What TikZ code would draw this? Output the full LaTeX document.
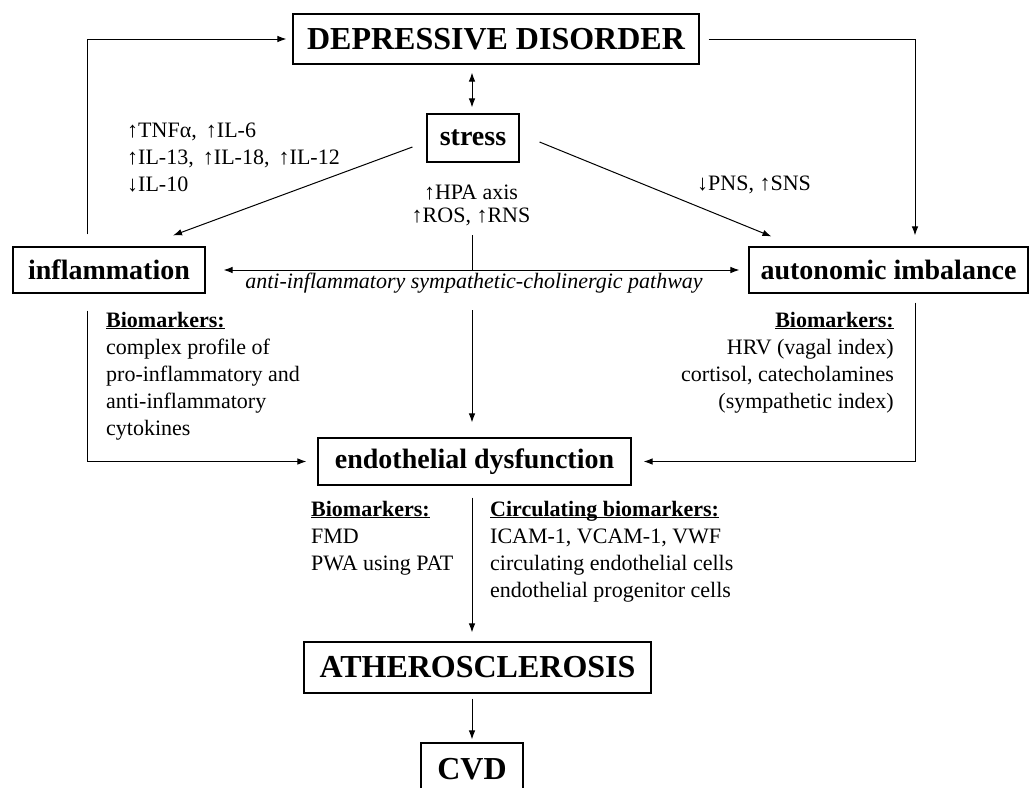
\documentclass[tikz,border=0pt]{standalone}
\usepackage{fontspec}
\setmainfont{Liberation Serif}
\usetikzlibrary{arrows.meta}
\newcommand{\ulbio}[1]{\textbf{\underline{\smash{#1}}}}
\begin{document}
\begin{tikzpicture}[x=1pt,y=-1pt,
  box/.style={draw, line width=1.1pt, inner sep=0pt, font=\bfseries\fontsize{28}{33}\selectfont},
  big/.style={box, font=\bfseries\fontsize{32}{38}\selectfont},
  conn/.style={line width=1pt},
  arr/.style={conn, -{Latex[length=9pt,width=6.5pt]}},
  dbl/.style={conn, {Latex[length=9pt,width=6.5pt]}-{Latex[length=9pt,width=6.5pt]}},
  txt/.style={inner sep=0pt, font=\fontsize{22}{27}\selectfont},
]
\useasboundingbox (0,0) rectangle (1032,787);
\clip (0,0) rectangle (1032,787);

% boxes
\node[big, minimum width=406pt, minimum height=50pt] (dd) at (496,39) {DEPRESSIVE DISORDER};
\node[box, minimum width=92pt, minimum height=48pt] (stress) at (473,138) {stress};
\node[box, minimum width=192pt, minimum height=46pt] (infl) at (109,270) {inflammation};
\node[box, minimum width=279pt, minimum height=46pt] (auto) at (888.5,270) {autonomic imbalance};
\node[box, minimum width=313pt, minimum height=47pt] (endo) at (474.5,461.5) {endothelial dysfunction};
\node[big, minimum width=347pt, minimum height=51pt] (ath) at (477.5,667.5) {ATHEROSCLEROSIS};
\node[big, minimum width=102pt, minimum height=52pt] (cvd) at (472,769) {CVD};

% texts
\node[txt, anchor=north west, align=left] (cyt) at (127,{137-18.9})
  {\strut↑TNFα, \,↑IL-6\\↑IL-13, \,↑IL-18, \,↑IL-12\\↓IL-10};
\node[inner sep=0pt, font=\fontsize{22}{23}\selectfont, anchor=north, align=center] (hpa) at (471,{199-16.1})
  {\strut↑HPA axis\\↑ROS, ↑RNS};
\node[txt, anchor=base west] (pns) at (697,190) {↓PNS, ↑SNS};
\node[inner sep=0pt, font=\itshape\fontsize{22}{27}\selectfont, anchor=base] (path) at (474,288)
  {anti-inflammatory sympathetic-cholinergic pathway};
\node[txt, anchor=north west, align=left] (bio1) at (106,{327-18.9})
  {\strut\ulbio{Biomarkers:}\\complex profile of\\pro-inflammatory and\\anti-inflammatory\\cytokines};
\node[txt, anchor=north east, align=right] (bio2) at (894,{327-18.9})
  {\strut\ulbio{Biomarkers:}\\HRV (vagal index)\\cortisol, catecholamines\\(sympathetic index)};
\node[txt, anchor=north west, align=left] (bio3) at (311,{516-18.9})
  {\strut\ulbio{Biomarkers:}\\FMD\\PWA using PAT};
\node[txt, anchor=north west, align=left] (bio4) at (490,{516-18.9})
  {\strut\ulbio{Circulating biomarkers:}\\ICAM-1, VCAM-1, VWF\\circulating endothelial cells\\endothelial progenitor cells};

% helper coordinates
\coordinate (lx) at (87,0);
\coordinate (rx) at (915,0);
\coordinate (cx) at (472,0);
\coordinate (hpaend) at (472,235);
\coordinate (pathend) at (472,310);

% connectors
\draw[arr, shorten <=12pt, shorten >=6pt] (infl.north -| lx) |- (dd.west);
\draw[arr, shorten <=9pt, shorten >=11pt] (dd.east) -| (auto.north -| rx);
\draw[dbl, shorten <=8pt, shorten >=6pt] (dd.south -| cx) -- (stress.north -| cx);
\draw[arr] ([shift={(-14,9)}]stress.west) -- ([shift={(64,-11)}]infl.north);
\draw[arr] ([shift={(20,4)}]stress.east) -- ([shift={(23,-10)}]auto.north west);
\draw[conn] (hpaend) -- (infl.east -| cx);
\draw[dbl, shorten <=18pt, shorten >=9pt] (infl.east) -- (auto.west);
\draw[arr, shorten >=15pt] (pathend) -- (endo.north -| cx);
\draw[arr, shorten <=17pt, shorten >=11pt] (infl.south -| lx) |- (endo.west);
\draw[arr, shorten <=9pt, shorten >=12pt] (auto.south -| rx) |- (endo.east);
\draw[arr, shorten <=12pt, shorten >=9pt] (endo.south -| cx) -- (ath.north -| cx);
\draw[arr, shorten <=5pt, shorten >=3pt] (ath.south -| cvd) -- (cvd.north);
\end{tikzpicture}
\end{document}
